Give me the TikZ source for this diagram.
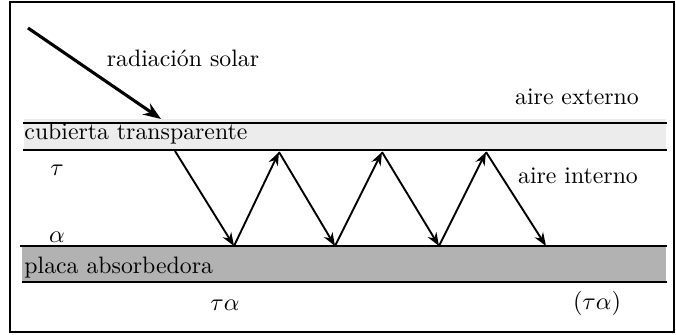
\documentclass[tikz,border=0pt]{standalone}
\usetikzlibrary{arrows.meta}
\begin{document}
\begin{tikzpicture}[x=0.45pt,y=-0.45pt,
  lbl/.style={inner sep=0pt,font=\fontsize{10.7}{13}\selectfont},
  ray/.style={line width=0.85pt,-{Stealth[length=6pt,width=4.5pt]}},
  sunray/.style={line width=1.4pt,-{Stealth[length=8pt,width=6pt]}},
  bar/.style={line width=0.9pt}]
\useasboundingbox (0,0) rectangle (676,334);
\draw[line width=0.9pt] (10,2) rectangle (674,332);
% cover
\fill[gray!15] (24,119) rectangle (666,151);
\draw[bar] (23,123) -- (667,123);
\draw[bar] (23,150) -- (667,150);
% plate
\fill[gray!60] (22,246) rectangle (666,282);
\draw[bar] (20,246) -- (667,246);
\draw[bar] (22,282) -- (667,282);
% labels
\node[lbl] (rad) at (183,58) {radiación solar};
\node[lbl] (ext) at (577,97) {aire externo};
\node[lbl,anchor=west] (cub) at (24,134) {cubierta transparente};
\node[lbl] (tau) at (57,170) {$\tau$};
\node[lbl] (int) at (578,176) {aire interno};
\node[lbl] (alp) at (57,237) {$\alpha$};
\node[lbl,anchor=west] (pla) at (24,268) {placa absorbedora};
\node[lbl] (ta) at (225,305) {$\tau\alpha$};
\node[lbl] (pta) at (597,303) {$(\tau\alpha)$};
% sun ray
\coordinate (s0) at (28,28);
\coordinate (s1) at (161,119);
\draw[sunray] (s0) -- (s1);
% zigzag
\coordinate (z0) at (175,151);
\coordinate (z1) at (234,246);
\coordinate (z2) at (279,152);
\coordinate (z3) at (335,246);
\coordinate (z4) at (382,152);
\coordinate (z5) at (439,246);
\coordinate (z6) at (486,152);
\coordinate (z7) at (546,246);
\draw[ray] (z0) -- (z1);
\draw[ray] (z1) -- (z2);
\draw[ray] (z2) -- (z3);
\draw[ray] (z3) -- (z4);
\draw[ray] (z4) -- (z5);
\draw[ray] (z5) -- (z6);
\draw[ray] (z6) -- (z7);
\end{tikzpicture}
\end{document}
